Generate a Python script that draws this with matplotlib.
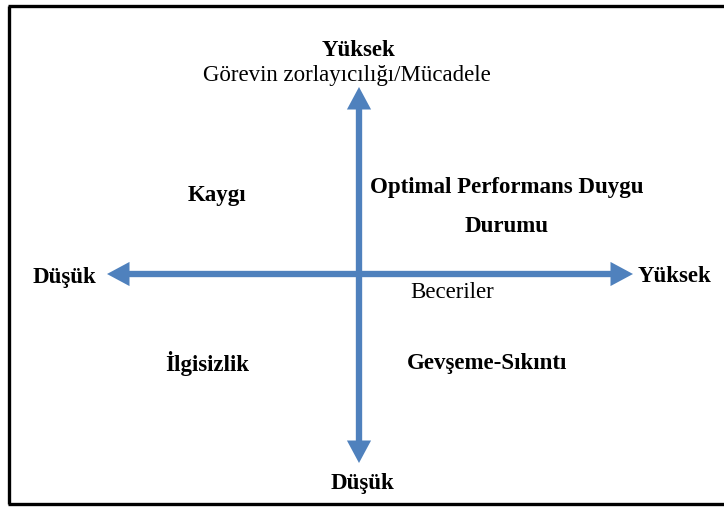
import matplotlib
matplotlib.use("Agg")
import matplotlib.pyplot as plt
from matplotlib.patches import FancyArrowPatch

# Diagram content
axis_labels_bold = ["Yüksek", "Düşük", "Yüksek", "Düşük"]
axis_titles = ["Görevin zorlayıcılığı/Mücadele", "Beceriler"]
quadrant_labels = ["Kaygı", "Optimal Performans Duygu", "Durumu", "İlgisizlik", "Gevşeme-Sıkıntı"]

# positions (pixel space)
bold_pos = [(359, 50, "center"), (64, 278, "center"), (674, 276, "center"), (362, 483, "center")]
title_pos = [(347, 76), (452, 293)]
quad_pos = [(217, 195), (507, 187), (507, 227), (207, 364), (487, 364)]

W, H = 724, 508
fig = plt.figure(figsize=(W / 100, H / 100), dpi=100)
ax = fig.add_axes([0, 0, 1, 1])
ax.set_xlim(0, W)
ax.set_ylim(H, 0)
ax.axis("off")

serif = ["Liberation Serif", "DejaVu Serif"]
blue = "#4F81BD"
fs = 16.5

# frame (left, top, bottom lines)
ax.plot([9, 9], [6, 504], color="black", lw=2.4, solid_capstyle="butt")
ax.plot([8, W], [6, 6], color="black", lw=2.4, solid_capstyle="butt")
ax.plot([8, W], [504, 504], color="black", lw=2.4, solid_capstyle="butt")

# arrows
def arrow(p0, p1):
    a = FancyArrowPatch(p0, p1, arrowstyle="simple,head_length=1.35,head_width=1.45,tail_width=0.38",
                        mutation_scale=12, color=blue, lw=0, shrinkA=0, shrinkB=0)
    ax.add_patch(a)

arrow((359, 274), (359, 87))
arrow((359, 274), (359, 463))
arrow((359, 274), (107, 274))
arrow((359, 274), (633, 274))

for (x, y, ha), t in zip(bold_pos, axis_labels_bold):
    ax.text(x, y, t, ha=ha, va="center", fontsize=fs, fontweight="bold", family=serif)

for (x, y), t in zip(title_pos, axis_titles):
    ax.text(x, y, t, ha="center", va="center", fontsize=fs, family=serif)

for (x, y), t in zip(quad_pos, quadrant_labels):
    ax.text(x, y, t, ha="center", va="center", fontsize=fs, fontweight="bold", family=serif)

fig.savefig("out.png", dpi=100, facecolor="white")
